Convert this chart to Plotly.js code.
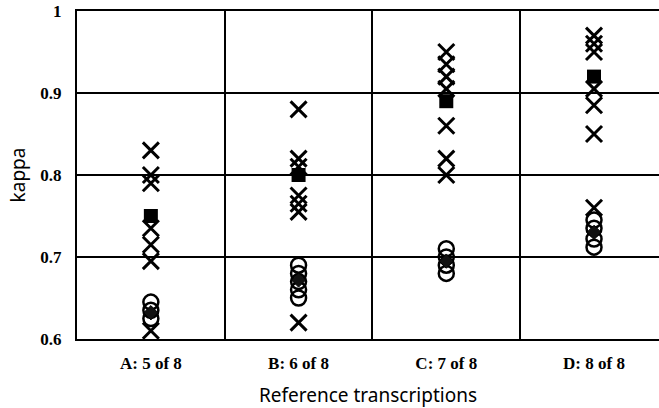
<!DOCTYPE html>
<html>
<head>
<meta charset="utf-8">
<script src="https://cdn.plot.ly/plotly-3.0.1.min.js"></script>
<style>html,body{margin:0;padding:0;background:#fff;}#chart{width:659px;height:408px;}</style>
</head>
<body>
<div id="chart"></div>
<script>
const categories = ["A: 5 of 8", "B: 6 of 8", "C: 7 of 8", "D: 8 of 8"];
const yTickVals = [0.6, 0.7, 0.8, 0.9, 1];
const yTickText = ["0.6", "0.7", "0.8", "0.9", "1"];

// crosses per category
const crossA = [0.83, 0.80, 0.79, 0.735, 0.715, 0.695, 0.61];
const crossB = [0.88, 0.82, 0.81, 0.775, 0.765, 0.755, 0.62];
const crossC = [0.95, 0.935, 0.92, 0.905, 0.86, 0.82, 0.80];
const crossD = [0.97, 0.96, 0.95, 0.905, 0.885, 0.85, 0.76];
// open circles per category
const circleA = [0.645, 0.635, 0.625];
const circleB = [0.69, 0.68, 0.67, 0.66, 0.65];
const circleC = [0.71, 0.70, 0.69, 0.68];
const circleD = [0.745, 0.735, 0.722, 0.712];
// filled squares and diamonds (one per category)
const squares = [0.75, 0.80, 0.89, 0.92];
const diamonds = [0.632, 0.672, 0.695, 0.73];

function flatten(groups) {
  const xs = [], ys = [];
  groups.forEach((g, i) => g.forEach(v => { xs.push(categories[i]); ys.push(v); }));
  return {xs, ys};
}
const cr = flatten([crossA, crossB, crossC, crossD]);
const ci = flatten([circleA, circleB, circleC, circleD]);

const traces = [
  {type: "scatter", mode: "markers", x: cr.xs, y: cr.ys, cliponaxis: false,
   marker: {symbol: "x-thin-open", size: 16, color: "#000", line: {color: "#000", width: 3}}},
  {type: "scatter", mode: "markers", x: ci.xs, y: ci.ys, cliponaxis: false,
   marker: {symbol: "circle-open", size: 15, color: "#000", line: {color: "#000", width: 2.5}}},
  {type: "scatter", mode: "markers", x: categories, y: squares,
   marker: {symbol: "square", size: 14, color: "#000"}},
  {type: "scatter", mode: "markers", x: categories, y: diamonds,
   marker: {symbol: "diamond", size: 11, color: "#111", line: {color: "#000", width: 1}}}
];

const layout = {
  width: 659, height: 408,
  margin: {l: 77, r: 0, t: 11, b: 69},
  paper_bgcolor: "#fff", plot_bgcolor: "#fff",
  showlegend: false,
  xaxis: {
    type: "category", categoryorder: "array", categoryarray: categories,
    range: [-0.5, 3.44], tickson: "boundaries",
    showgrid: true, gridcolor: "#000", gridwidth: 2,
    showline: true, mirror: true, linecolor: "#000", linewidth: 2,
    ticks: "", ticklabelstandoff: 8,
    tickfont: {family: "Liberation Serif", size: 17, color: "#000", weight: "bold"},
    title: {text: "Reference transcriptions", standoff: 18,
            font: {family: "Noto Sans", size: 19, color: "#000"}},
    fixedrange: true
  },
  yaxis: {
    range: [0.6, 1], tickmode: "array", tickvals: yTickVals, ticktext: yTickText,
    showgrid: true, gridcolor: "#000", gridwidth: 2, zeroline: false,
    showline: true, mirror: false, linecolor: "#000", linewidth: 2,
    ticks: "", ticklabelstandoff: 10,
    tickfont: {family: "Liberation Serif", size: 17, color: "#000", weight: "bold"},
    title: {text: "kappa", standoff: 10,
            font: {family: "Noto Sans", size: 19, color: "#000"}},
    fixedrange: true
  }
};

Plotly.newPlot("chart", traces, layout, {staticPlot: true, displayModeBar: false});
</script>
</body>
</html>
